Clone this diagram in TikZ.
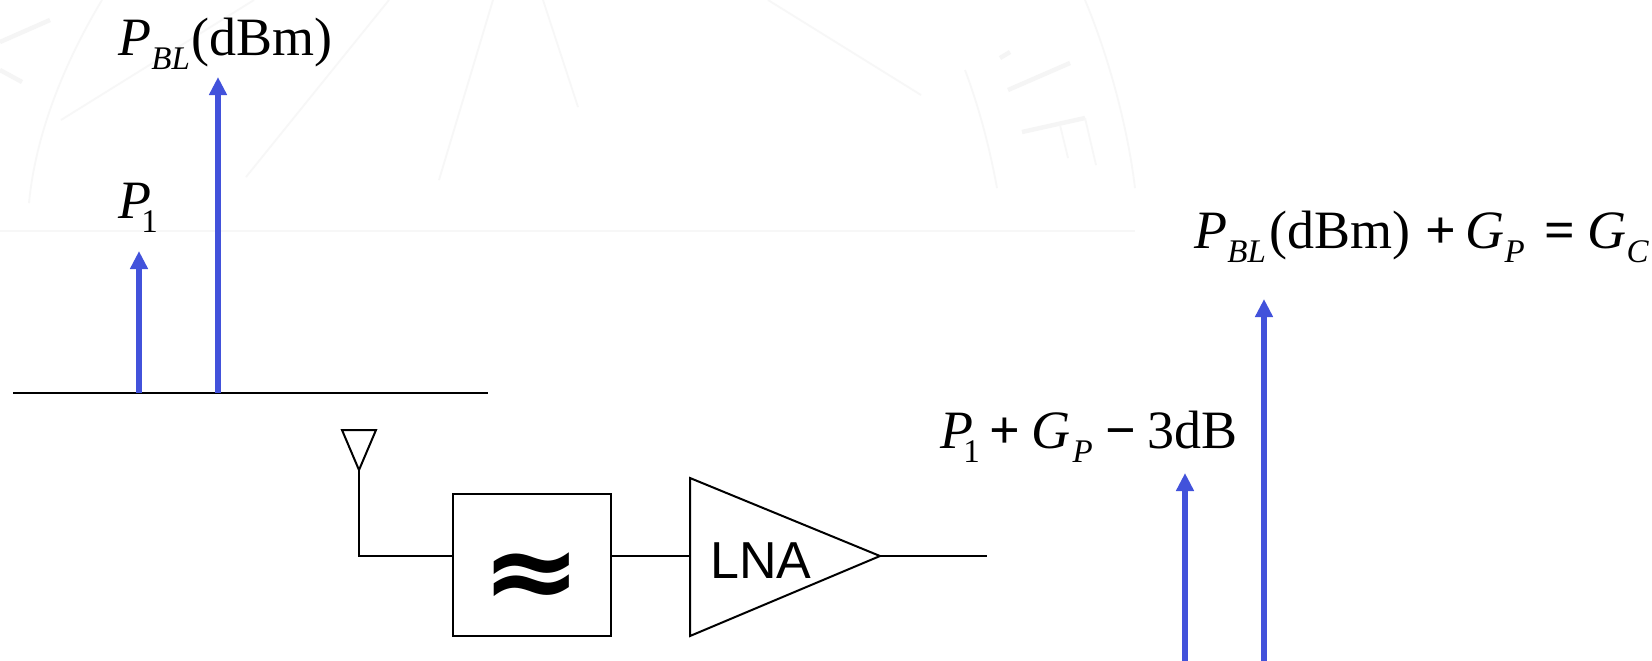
\documentclass[tikz,border=0pt]{standalone}
\usepackage{fontspec}
\setmainfont{Liberation Serif}
\newfontfamily\helvfam{Liberation Sans}
\newfontfamily\dejafam{DejaVu Sans}
\usetikzlibrary{arrows.meta}
\definecolor{toneblue}{RGB}{66,82,219}
\newcommand{\subit}[1]{\raisebox{-7pt}{\fontsize{16.5}{18}\selectfont\itshape #1}}
\newcommand{\subrm}[1]{\raisebox{-7pt}{\fontsize{16.5}{18}\selectfont #1}}
\tikzset{
  wire/.style={draw=black,line width=1pt},
  tone/.style={draw=toneblue,line width=3.2pt,-{Triangle[width=8.5pt,length=9pt]}},
  lab/.style={anchor=base west,inner sep=0pt,font=\fontsize{27}{30}\selectfont},
  faint/.style={draw=black!3,line width=0.9pt},
  faintb/.style={draw=black!4,line width=2.2pt},
  filterbox/.style={draw=black,line width=1pt,minimum width=79pt,minimum height=71pt,inner sep=0pt,fill=white},
}
\begin{document}
\begin{tikzpicture}[x=0.5pt,y=-0.5pt]
\useasboundingbox (0,0) rectangle (1652,660);
\fill[white] (0,0) rectangle (1652,660);
% watermark
\draw[faint] (0,231) -- (1135,231);
\draw[faint] (102,0) .. controls (60,70) and (35,140) .. (29,203);
\draw[faint] (254,0) -- (61,120);
\draw[faint] (389,0) -- (246,177);
\draw[faint] (493,0) -- (439,180);
\draw[faint] (543,0) -- (578,107);
\draw[faint] (768,0) -- (921,95);
\draw[faint] (965,70) .. controls (980,110) and (990,150) .. (997,188);
\draw[faint] (1085,0) .. controls (1110,60) and (1128,130) .. (1135,188);
\draw[faintb] (0,42) -- (50,20);
\draw[faintb] (0,70) -- (22,82);
\draw[faintb] (1008,90) -- (1070,63);
\draw[faintb] (1022,132) -- (1085,118);
\draw[faint] (1060,125) -- (1068,158);
\draw[faint] (1085,118) -- (1096,165);
\draw[faintb] (1000,58) -- (1010,52);
% spectrum
\coordinate (axl) at (13,393);
\coordinate (axr) at (488,393);
\coordinate (b1) at (139,393);
\coordinate (b2) at (218,393);
\coordinate (t1) at (139,251);
\coordinate (t2) at (218,77);
\draw[wire] (axl) -- (axr);
\draw[tone] (b1) -- (t1);
\draw[tone] (b2) -- (t2);
\node[lab] (lblbl) at (118,55) {\textit{P}\subit{BL}\kern1pt(dBm)};
\node[lab] (lblp1) at (118,218) {\textit{P}\kern-5pt\subrm{1}};
% chain
\coordinate (anl) at (342,430);
\coordinate (anr) at (376,430);
\coordinate (ant) at (359,470);
\coordinate (ang) at (359,556);
\draw[wire,line join=miter] (anl) -- (anr) -- (ant) -- cycle;
\node[filterbox] (flt) at (532,565) {};
\node[inner sep=0pt] (wave) at (532,581) {\dejafam\bfseries\fontsize{60}{60}\selectfont\scalebox{1}[0.9]{≈}};
\coordinate (a1) at (690,478);
\coordinate (a2) at (690,636);
\coordinate (a3) at (880,556);
\coordinate (ain) at (690,556);
\coordinate (outp) at (987,556);
\draw[wire,line join=miter] (a1) -- (a3) -- (a2) -- cycle;
\node[inner sep=0pt,anchor=base west,font=\helvfam\fontsize{26}{28}\selectfont] (lna) at (710,578) {LNA};
\draw[wire] (ant) -- (ang) -- (flt.west |- ang);
\draw[wire] (flt.east |- ain) -- (ain);
\draw[wire] (a3) -- (outp);
% output spectrum
\coordinate (b3) at (1185,662);
\coordinate (b4) at (1264,662);
\coordinate (t3) at (1185,473);
\coordinate (t4) at (1264,299);
\draw[tone] (b3) -- (t3);
\draw[tone] (b4) -- (t4);
\node[lab] (lbout) at (1194,248) {\textit{P}\subit{BL}\kern2pt(dBm)\kern7.5pt\textbf{+}\kern4.5pt\textit{G}\subit{P}\kern10pt\textbf{=}\kern6pt\textit{G}\subit{C}};
\node[lab] (lbone) at (940,448) {\textit{P}\kern-5pt\subrm{1}\kern5pt\textbf{+}\kern5.5pt\textit{G}\kern1pt\subit{P}\kern6.5pt\textbf{−}\kern5.5pt3dB};
\end{tikzpicture}
\end{document}
